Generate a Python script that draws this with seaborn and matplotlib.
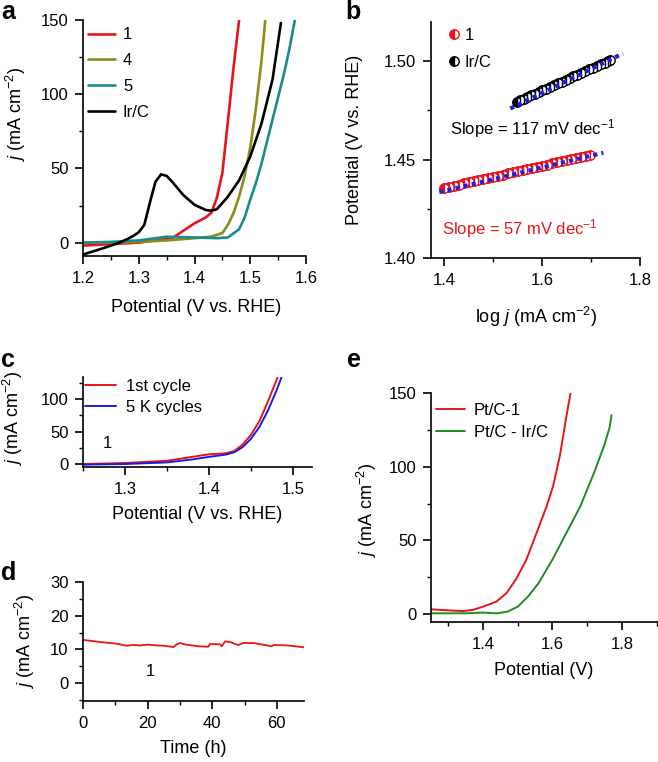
import numpy as np
import pandas as pd
import matplotlib
matplotlib.use("Agg")
import matplotlib.pyplot as plt
from matplotlib.ticker import MultipleLocator, FormatStrFormatter
import seaborn as sns

# ---------------- data ----------------
# panel a
a1_x = [1.20, 1.25, 1.30, 1.33, 1.36, 1.38, 1.40, 1.42, 1.43, 1.44, 1.45, 1.46, 1.47, 1.475, 1.48]
a1_y = [-2.0, -1.0, 0.0, 1.5, 3.0, 8.0, 13.0, 17.0, 20.0, 30.0, 47.0, 82.0, 118.0, 134.0, 150.0]
a4_x = [1.20, 1.25, 1.30, 1.35, 1.40, 1.43, 1.45, 1.46, 1.47, 1.48, 1.49, 1.50, 1.51, 1.52, 1.527]
a4_y = [0.0, 0.0, 0.5, 1.5, 3.0, 4.0, 6.5, 12.0, 20.0, 31.0, 45.0, 64.0, 90.0, 122.0, 150.0]
a5_x = [1.20, 1.25, 1.30, 1.35, 1.40, 1.44, 1.46, 1.48, 1.49, 1.50, 1.51, 1.52, 1.53, 1.54, 1.55, 1.56, 1.57, 1.58]
a5_y = [0.0, 0.5, 1.5, 4.0, 3.5, 3.0, 3.5, 9.0, 17.0, 29.0, 40.0, 53.0, 68.0, 83.0, 98.0, 113.0, 130.0, 150.0]
aIr_x = [1.20, 1.23, 1.25, 1.265, 1.28, 1.29, 1.30, 1.31, 1.32, 1.33, 1.34, 1.35, 1.36, 1.38, 1.40, 1.42, 1.43,
         1.44, 1.46, 1.48, 1.50, 1.52, 1.54, 1.555]
aIr_y = [-8.0, -4.5, -2.0, 0.0, 2.5, 4.5, 7.0, 12.0, 27.0, 41.0, 46.0, 45.0, 41.0, 32.0, 25.5, 22.0, 21.5,
         22.5, 31.0, 42.0, 58.0, 80.0, 110.0, 148.0]

# panel b (Tafel)
b1_logj = [1.400, 1.410, 1.420, 1.430, 1.440, 1.450, 1.460, 1.470, 1.480, 1.490, 1.500, 1.510, 1.520,
           1.530, 1.540, 1.550, 1.560, 1.570, 1.580, 1.590, 1.600, 1.610, 1.620, 1.630, 1.640, 1.650,
           1.660, 1.670, 1.680, 1.690, 1.698]
b1_pot = [1.4356, 1.4362, 1.4368, 1.4373, 1.4379, 1.4384, 1.4390, 1.4396, 1.4401, 1.4407, 1.4413, 1.4418,
          1.4424, 1.4430, 1.4435, 1.4441, 1.4447, 1.4452, 1.4458, 1.4464, 1.4469, 1.4475, 1.4481, 1.4486,
          1.4492, 1.4498, 1.4503, 1.4509, 1.4515, 1.4520, 1.4525]
bIr_logj = [1.548, 1.555, 1.562, 1.570, 1.578, 1.585, 1.593, 1.600, 1.608, 1.616, 1.624, 1.632, 1.640,
            1.648, 1.656, 1.664, 1.672, 1.680, 1.688, 1.696, 1.704, 1.712, 1.720, 1.728, 1.735, 1.739]
bIr_pot = [1.4793, 1.4801, 1.4809, 1.4818, 1.4827, 1.4835, 1.4844, 1.4852, 1.4861, 1.4870, 1.4879, 1.4888,
           1.4897, 1.4905, 1.4914, 1.4923, 1.4932, 1.4941, 1.4950, 1.4959, 1.4967, 1.4976, 1.4985, 1.4994,
           1.5001, 1.5005]
fit1_x = [1.390, 1.725]
fit1_y = [1.4335, 1.4535]
fitIr_x = [1.535, 1.765]
fitIr_y = [1.4760, 1.5040]

# panel c
c1_x = [1.25, 1.30, 1.35, 1.38, 1.40, 1.42, 1.43, 1.44, 1.45, 1.46, 1.47, 1.48, 1.483]
c1_y = [0.0, 1.5, 5.0, 11.0, 15.0, 16.5, 20.0, 30.0, 45.0, 66.0, 96.0, 128.0, 138.0]
c2_x = [1.25, 1.30, 1.35, 1.38, 1.40, 1.42, 1.43, 1.44, 1.45, 1.46, 1.47, 1.48, 1.487]
c2_y = [-1.0, 0.0, 2.5, 7.0, 11.0, 14.5, 18.0, 26.0, 39.0, 57.0, 82.0, 112.0, 136.0]

# panel d
d_t = [0.0, 2.0, 5.3, 10.4, 13.5, 15.5, 17.6, 20.0, 22.8, 25.0, 28.0, 29.0, 30.0, 32.0, 36.0, 38.8, 39.3,
       42.4, 42.9, 44.0, 45.5, 48.0, 49.6, 52.7, 55.8, 58.4, 58.9, 63.0, 66.0, 68.3]
d_j = [12.8, 12.6, 12.2, 11.7, 11.1, 11.3, 11.2, 11.4, 11.2, 11.1, 10.7, 11.5, 11.9, 11.4, 10.9, 10.8, 11.6,
       11.5, 10.9, 12.4, 12.2, 11.3, 11.9, 11.9, 11.4, 10.9, 11.3, 11.2, 10.9, 10.6]

# panel e
e1_x = [1.25, 1.30, 1.342, 1.37, 1.40, 1.438, 1.467, 1.496, 1.525, 1.554, 1.583, 1.602, 1.621, 1.64, 1.652]
e1_y = [3.2, 2.5, 2.0, 2.8, 5.0, 8.4, 14.0, 24.0, 37.0, 55.0, 73.0, 87.0, 107.0, 134.0, 150.0]
e2_x = [1.25, 1.30, 1.35, 1.40, 1.44, 1.47, 1.50, 1.53, 1.56, 1.60, 1.64, 1.68, 1.72, 1.75, 1.765, 1.77]
e2_y = [0.5, 0.5, 0.5, 1.0, 0.5, 1.6, 5.0, 12.0, 21.0, 37.0, 55.0, 73.0, 96.0, 115.0, 127.0, 135.0]

# ---------------- style ----------------
sns.set_style("ticks")
plt.rcParams["font.family"] = ["Liberation Sans", "DejaVu Sans"]
plt.rcParams["mathtext.fontset"] = "custom"
plt.rcParams["mathtext.rm"] = "Liberation Sans"
plt.rcParams["mathtext.it"] = "Liberation Sans:italic"
plt.rcParams["mathtext.bf"] = "Liberation Sans:bold"
plt.rcParams.update({
    "font.size": 12,
    "axes.linewidth": 1.2,
    "xtick.major.size": 5.5, "ytick.major.size": 5.5,
    "xtick.minor.size": 3, "ytick.minor.size": 3,
    "xtick.major.width": 1.2, "ytick.major.width": 1.2,
    "xtick.minor.width": 1.0, "ytick.minor.width": 1.0,
    "xtick.major.pad": 5, "ytick.major.pad": 5,
    "xtick.direction": "out", "ytick.direction": "out",
    "xtick.labelsize": 12, "ytick.labelsize": 12,
    "axes.labelsize": 13,
    "legend.fontsize": 12,
    "axes.edgecolor": "black", "xtick.color": "black", "ytick.color": "black",
    "text.color": "black", "axes.labelcolor": "black",
})

W, H = 658, 762
fig = plt.figure(figsize=(W / 100, H / 100), dpi=100)


def add_ax(l, r, t, b):
    return fig.add_axes([l / W, 1 - b / H, (r - l) / W, (b - t) / H])


def labels(ax, xl, yl, xpos, ypos):
    ax.set_xlabel(xl)
    ax.set_ylabel(yl)
    ax.xaxis.label.set_verticalalignment("center")
    ax.yaxis.label.set_verticalalignment("center")
    ax.yaxis.label.set_horizontalalignment("center")
    ax.xaxis.set_label_coords(*xpos)
    ax.yaxis.set_label_coords(*ypos)
    sns.despine(ax=ax)


JLAB = r"$j$ (mA cm$^{-2}$)"
RED = "#e8141b"
OLIVE = "#8c8c1a"
TEAL = "#1a8c8c"
BLUE = "#1f1fe6"

# ---- panel a ----
axa = add_ax(83, 306, 20, 256)
for xs, ys, c, lab in [(a1_x, a1_y, RED, "1"), (a4_x, a4_y, OLIVE, "4"),
                       (a5_x, a5_y, TEAL, "5"), (aIr_x, aIr_y, "black", "Ir/C")]:
    sns.lineplot(x=xs, y=ys, ax=axa, color=c, lw=1.9, label=lab, sort=False)
axa.set_xlim(1.2, 1.6)
axa.set_ylim(-9, 150)
axa.xaxis.set_major_locator(MultipleLocator(0.1))
axa.xaxis.set_minor_locator(MultipleLocator(0.05))
axa.yaxis.set_major_locator(MultipleLocator(50))
axa.yaxis.set_minor_locator(MultipleLocator(25))
labels(axa, "Potential (V vs. RHE)", JLAB, (0.507, -0.22), (-0.30, 0.60))
axa.legend(loc="upper left", frameon=False, handlelength=1.6, labelspacing=0.65,
           borderaxespad=0.0, handletextpad=0.5, borderpad=0.3, bbox_to_anchor=(0.0, 0.99))

# ---- panel b ----
axb = add_ax(431, 640, 22, 258)
sns.lineplot(x=b1_logj, y=b1_pot, ax=axb, color=RED, linestyle="", marker="o", markersize=6.8,
             fillstyle="left", markerfacecoloralt="white", markeredgecolor=RED,
             markeredgewidth=1.0, label="1")
sns.lineplot(x=bIr_logj, y=bIr_pot, ax=axb, color="black", linestyle="", marker="o", markersize=6.8,
             fillstyle="left", markerfacecoloralt="white", markeredgecolor="black",
             markeredgewidth=1.0, label="Ir/C")
for fx, fy in [(fit1_x, fit1_y), (fitIr_x, fitIr_y)]:
    sns.lineplot(x=fx, y=fy, ax=axb, color=BLUE, lw=3.0, linestyle=(0, (1.0, 1.0)),
                 dash_capstyle="butt", zorder=5)
axb.set_xlim(1.373, 1.8)
axb.set_ylim(1.40, 1.52)
axb.xaxis.set_major_locator(MultipleLocator(0.2))
axb.xaxis.set_minor_locator(MultipleLocator(0.1))
axb.yaxis.set_major_locator(MultipleLocator(0.05))
axb.yaxis.set_minor_locator(MultipleLocator(0.025))
axb.yaxis.set_major_formatter(FormatStrFormatter("%.2f"))
labels(axb, r"log $j$ (mA cm$^{-2}$)", "Potential (V vs. RHE)", (0.50, -0.25), (-0.364, 0.50))
axb.legend(loc="upper left", frameon=False, handlelength=0.6, labelspacing=0.7,
           borderaxespad=0.0, handletextpad=0.35, borderpad=0.3, bbox_to_anchor=(0.06, 0.995))
axb.text(1.412, 1.466, r"Slope = 117 mV dec$^{-1}$", color="black", va="center", fontsize=12)
axb.text(1.396, 1.415, r"Slope = 57 mV dec$^{-1}$", color=RED, va="center", fontsize=12)

# ---- panel c ----
axc = add_ax(83, 312, 377, 467)
sns.lineplot(x=c1_x, y=c1_y, ax=axc, color=RED, lw=1.4, label="1st cycle", sort=False)
sns.lineplot(x=c2_x, y=c2_y, ax=axc, color="#1a1ae0", lw=1.4, label="5 K cycles", sort=False)
axc.set_xlim(1.25, 1.5226)
axc.set_ylim(-4.6, 134)
axc.xaxis.set_major_locator(MultipleLocator(0.1))
axc.xaxis.set_minor_locator(MultipleLocator(0.05))
axc.yaxis.set_major_locator(MultipleLocator(50))
axc.yaxis.set_minor_locator(MultipleLocator(25))
labels(axc, "Potential (V vs. RHE)", JLAB, (0.50, -0.533), (-0.306, 0.54))
axc.legend(loc="upper left", frameon=False, handlelength=1.85, labelspacing=0.35,
           borderaxespad=0.0, handletextpad=0.6, borderpad=0.0, bbox_to_anchor=(0.01, 0.98))
axc.text(1.274, 32, "1", va="center", fontsize=12)

# ---- panel d ----
axd = add_ax(83, 304, 582, 701)
sns.lineplot(x=d_t, y=d_j, ax=axd, color=RED, lw=1.3, sort=False)
axd.set_xlim(0, 68.4)
axd.set_ylim(-5.3, 30)
axd.xaxis.set_major_locator(MultipleLocator(20))
axd.xaxis.set_minor_locator(MultipleLocator(10))
axd.yaxis.set_major_locator(MultipleLocator(10))
axd.yaxis.set_minor_locator(MultipleLocator(5))
labels(axd, "Time (h)", JLAB, (0.50, -0.395), (-0.262, 0.50))
axd.text(20.7, 3.5, "1", va="center", ha="center", fontsize=12)

# ---- panel e ----
axe = add_ax(431, 658, 393, 622)
sns.lineplot(x=e1_x, y=e1_y, ax=axe, color=RED, lw=1.4, label="Pt/C-1", sort=False)
sns.lineplot(x=e2_x, y=e2_y, ax=axe, color="#1e8c1e", lw=1.4, label="Pt/C - Ir/C", sort=False)
axe.set_xlim(1.25, 1.904)
axe.set_ylim(-5.4, 150)
axe.xaxis.set_major_locator(MultipleLocator(0.2))
axe.xaxis.set_minor_locator(MultipleLocator(0.1))
axe.yaxis.set_major_locator(MultipleLocator(50))
axe.yaxis.set_minor_locator(MultipleLocator(25))
labels(axe, "Potential (V)", JLAB, (0.498, -0.21), (-0.28, 0.485))
axe.legend(loc="upper left", frameon=False, handlelength=1.75, labelspacing=0.45,
           borderaxespad=0.0, handletextpad=0.5, borderpad=0.3, bbox_to_anchor=(0.0, 0.98))

# panel letters
for txt, x, y in [("a", 1, 19), ("b", 345, 19), ("c", 1, 367), ("d", 1, 580), ("e", 347, 367)]:
    fig.text(x / W, 1 - y / H, txt, fontsize=18, fontweight="bold", va="baseline", ha="left")

fig.savefig("out.png", dpi=100)
